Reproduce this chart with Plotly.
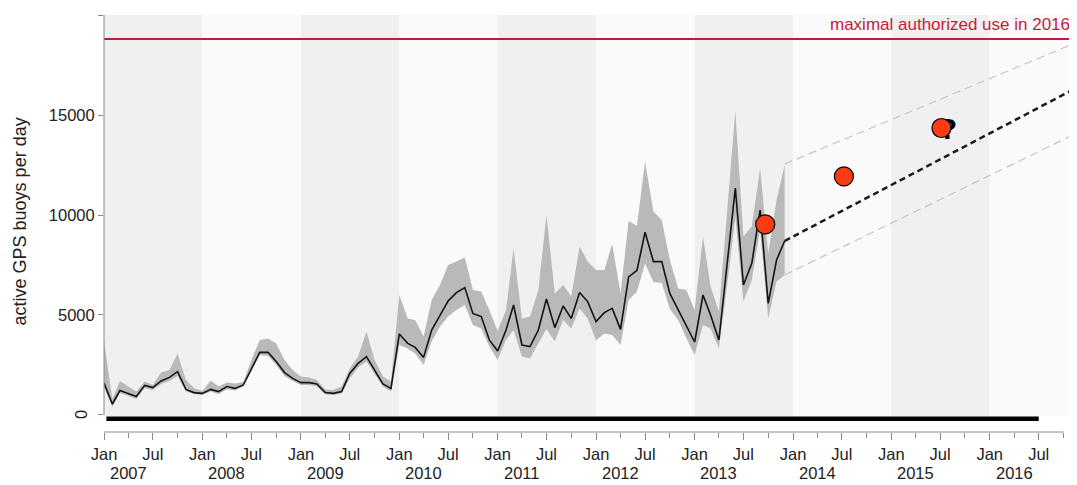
import plotly.graph_objects as go
import pandas as pd

# ---------------- data ----------------
months = pd.date_range("2007-01-01", periods=84, freq="MS")

mean_vals = [1600, 550, 1220, 1080, 920, 1480, 1370, 1700, 1880, 2170, 1280, 1120,
             1080, 1280, 1170, 1420, 1330, 1500, 2330, 3130, 3130, 2670, 2120, 1830,
             1620, 1620, 1550, 1120, 1080, 1170, 2080, 2580, 2920, 2250, 1550, 1330,
             4050, 3580, 3380, 2880, 4250, 4980, 5700, 6120, 6370, 5080, 4920, 3750,
             3200, 4250, 5500, 3500, 3420, 4250, 5800, 4370, 5450, 4830, 6120, 5670,
             4670, 5120, 5330, 4280, 6900, 7230, 9140, 7670, 7670, 6080, 5250, 4420,
             3650, 6000, 5000, 3750, 7550, 11350, 6500, 7580, 10250, 5580, 7750, 8700]

upper_vals = [3700, 800, 1700, 1420, 1170, 1670, 1500, 2120, 2250, 3080, 1750, 1350,
              1200, 1720, 1420, 1630, 1580, 1650, 2750, 3750, 3830, 3580, 2750, 2250,
              1920, 1880, 1750, 1280, 1250, 1420, 2330, 2920, 4170, 2750, 1920, 1670,
              6000, 4830, 4750, 3920, 5750, 6500, 7500, 7670, 7880, 6250, 6170, 5250,
              4200, 5250, 8330, 4830, 4920, 6250, 10000, 6080, 6500, 5920, 8420, 7670,
              7250, 7250, 8550, 6080, 9700, 9450, 12670, 10170, 9750, 7750, 6330, 6250,
              5250, 8920, 6420, 5170, 10100, 15200, 8920, 9420, 12330, 8080, 10750, 12500]

lower_vals = [1400, 400, 1100, 950, 800, 1350, 1250, 1550, 1700, 1950, 1170, 1050,
              1000, 1170, 1050, 1280, 1220, 1420, 2220, 3000, 2950, 2500, 1950, 1700,
              1500, 1500, 1420, 1030, 1000, 1080, 1830, 2380, 2670, 2080, 1420, 1170,
              3500, 3330, 3080, 2500, 3670, 4420, 4920, 5250, 5500, 4500, 4330, 3420,
              2750, 3750, 4250, 2920, 2830, 3580, 4300, 3670, 4750, 4330, 5330, 4830,
              3720, 4080, 4000, 3500, 5750, 6170, 7580, 6650, 6600, 5300, 4750, 3850,
              3000, 4500, 4330, 3330, 6400, 9900, 5670, 6750, 9250, 4830, 6670, 7000]

trend_dates = ["2013-12-01", "2016-12-01"]
trend_mid = [8700, 16450]
trend_high = [12550, 18700]
trend_low = [7000, 14170]

survey_dates = ["2013-09-20", "2014-07-09", "2015-07-06"]
survey_vals = [9530, 11930, 14350]

question_date = ["2015-07-30"]
question_val = [14200]

limit_value = 18800
limit_label = "maximal authorized use in 2016"
y_title = "active GPS buoys per day"

years = list(range(2007, 2017))
bar_dates = ["2007-01-10", "2016-07-01"]
bar_level = -185

y_ticks = [0, 5000, 10000, 15000, 20000]
y_ticktext = ["", "5000", "10000", "15000", "20000"]

x_tickvals = []
x_ticktext = []
for yr in years:
    x_tickvals += [f"{yr}-01-01", f"{yr}-07-01"]
    x_ticktext += ["Jan", "Jul"]

# ---------------- style ----------------
FONT = "Liberation Sans, Arial, Helvetica, sans-serif"
RED = "#c8193c"
DOT = "#fb3b12"
AX = "#8a8a8a"
TXT = "#222222"
TICK_SIZE = 16.5

fig = go.Figure()

# ribbon
fig.add_trace(go.Scatter(x=months, y=upper_vals, mode="lines", line=dict(width=0),
                         hoverinfo="skip", showlegend=False))
fig.add_trace(go.Scatter(x=months, y=lower_vals, mode="lines", line=dict(width=0),
                         fill="tonexty", fillcolor="#b9b9b9", showlegend=False))
# mean line
fig.add_trace(go.Scatter(x=months, y=mean_vals, mode="lines",
                         line=dict(color="#141414", width=1.6), showlegend=False))
# projections
fig.add_trace(go.Scatter(x=trend_dates, y=trend_high, mode="lines",
                         line=dict(color="#c4c4c4", width=1.2, dash="8px,5px"), showlegend=False))
fig.add_trace(go.Scatter(x=trend_dates, y=trend_low, mode="lines",
                         line=dict(color="#c4c4c4", width=1.2, dash="8px,5px"), showlegend=False))
fig.add_trace(go.Scatter(x=trend_dates, y=trend_mid, mode="lines",
                         line=dict(color="#1a1a1a", width=2.5, dash="6px,4px"), showlegend=False))
# thick bar
fig.add_trace(go.Scatter(x=bar_dates, y=[bar_level, bar_level], mode="lines",
                         line=dict(color="black", width=4.5), showlegend=False))
# question mark behind the last dot
fig.add_trace(go.Scatter(x=question_date, y=question_val, mode="text", text=["<b>?</b>"],
                         textfont=dict(family=FONT, size=30, color="black"),
                         textposition="middle center", showlegend=False))
# survey dots
fig.add_trace(go.Scatter(x=survey_dates, y=survey_vals, mode="markers",
                         marker=dict(size=19, color=DOT, line=dict(color="black", width=1.2)),
                         showlegend=False))

shapes = []
for k, yr in enumerate(years):
    shapes.append(dict(type="rect", xref="x", yref="y",
                       x0=f"{yr}-01-01", x1=f"{yr + 1}-01-01", y0=-50, y1=20000,
                       fillcolor="#f0f0f0" if k % 2 == 0 else "#fafafa",
                       line=dict(width=0), layer="below"))
# red limit line
shapes.append(dict(type="line", xref="paper", yref="y", x0=0, x1=1,
                   y0=limit_value, y1=limit_value, line=dict(color=RED, width=2), layer="above"))
# axis lines
shapes.append(dict(type="line", xref="paper", yref="y", x0=0, x1=0, y0=0, y1=20000,
                   line=dict(color=AX, width=1), layer="above"))
shapes.append(dict(type="line", xref="x", yref="paper", x0="2007-01-01", x1="2016-10-01",
                   y0=0, y1=0, line=dict(color=AX, width=1), layer="above"))

annotations = [
    dict(text=limit_label, xref="paper", yref="y", x=0.9949, y=19550,
         xanchor="right", yanchor="middle", showarrow=False,
         font=dict(family=FONT, size=17, color=RED)),
    dict(text=y_title, xref="paper", yref="paper", x=-0.0863, y=0.505,
         xanchor="center", yanchor="middle", textangle=-90, showarrow=False,
         font=dict(family=FONT, size=18, color=TXT)),
    dict(text="0", xref="paper", yref="y", x=-0.0236, y=0, xanchor="center",
         yanchor="middle", textangle=-90, showarrow=False,
         font=dict(family=FONT, size=TICK_SIZE, color=TXT)),
]
for yr in years:
    annotations.append(dict(text=str(yr), xref="x", yref="paper", x=f"{yr}-04-01",
                            y=-0.0983, xanchor="center", yanchor="middle", showarrow=False,
                            font=dict(family=FONT, size=TICK_SIZE, color=TXT)))

# page body has an 8px margin: shrink the figure so the plot lands where the reference has it
fig.update_layout(
    width=1069, height=477,
    margin=dict(l=96, r=0, t=7, b=53, autoexpand=False),
    paper_bgcolor="white", plot_bgcolor="white",
    font=dict(family=FONT, size=16, color=TXT),
    shapes=shapes, annotations=annotations,
    xaxis=dict(type="date", range=["2007-01-01", "2016-11-20"], anchor="free", position=0,
               automargin=False,
               tickvals=x_tickvals, ticktext=x_ticktext, ticks="outside", ticklen=7,
               tickcolor=AX, showline=False, showgrid=False, zeroline=False,
               tickfont=dict(family=FONT, size=TICK_SIZE, color=TXT),
               minor=dict(ticks="outside", ticklen=5, tickcolor=AX, dtick="M3",
                          tick0="2007-01-01", showgrid=False)),
    yaxis=dict(range=[-300, 20000], domain=[0.0264, 1], tickvals=y_ticks, ticktext=y_ticktext,
               automargin=False,
               ticks="outside", ticklen=5, tickcolor=AX, showline=False, showgrid=False,
               zeroline=False, tickfont=dict(family=FONT, size=TICK_SIZE, color=TXT)),
)

fig.write_html("out.html")
